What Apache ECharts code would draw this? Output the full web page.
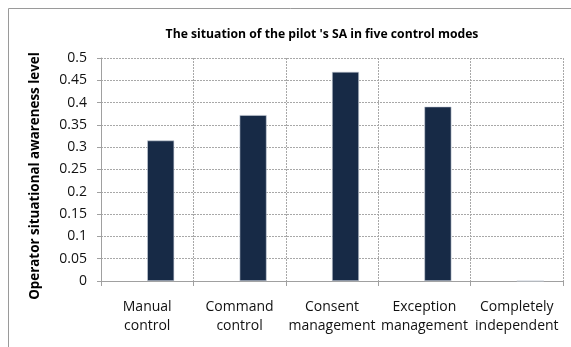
<!DOCTYPE html>
<html><head><meta charset="utf-8">
<script src="https://cdn.jsdelivr.net/npm/echarts@6/dist/echarts.min.js"></script>
<style>html,body{margin:0;padding:0;background:#fff}#c{width:571px;height:347px}</style>
</head><body><div id="c"></div>
<script>
const categories = ['Manual\ncontrol', 'Command\ncontrol', 'Consent\nmanagement', 'Exception\nmanagement', 'Completely\nindependent'];
const saValues = [0.315, 0.372, 0.469, 0.391, 0];
const emptySeries = [null, null, null, null, null];
const titleText = "The situation of the pilot 's SA in five control modes";
const yName = 'Operator situational awareness level';

const FONT = '"Open Sans", "Noto Sans", sans-serif';
const chart = echarts.init(document.getElementById('c'), null, {renderer: 'canvas'});
chart.setOption({
  animation: false,
  backgroundColor: '#fff',
  title: {
    text: titleText, left: 317, top: 24, textAlign: 'center',
    textStyle: {fontFamily: FONT, fontWeight: 'bold', fontSize: 12.2, color: '#000'}
  },
  graphic: [
    {type: 'rect', shape: {x: 8.5, y: 8.5, width: 600, height: 400}, style: {fill: 'none', stroke: '#9a9a9a', lineWidth: 1}, silent: true},
    {type: 'text', x: 35, y: 176, rotation: Math.PI / 2,
     style: {text: yName, fontFamily: FONT, fontWeight: 'bold', fontSize: 13.4, fill: '#000', align: 'center', verticalAlign: 'middle'}}
  ],
  grid: {left: 101, right: 8, top: 58, bottom: 66, containLabel: false},
  xAxis: {
    type: 'category', data: categories, boundaryGap: true,
    axisLine: {show: true, lineStyle: {color: '#a0a0a0', width: 1}},
    axisTick: {show: true, length: 5, interval: 0, lineStyle: {color: '#a0a0a0'}},
    splitLine: {show: true, interval: 0, lineStyle: {color: '#a8a8a8', type: [2, 1], width: 1}},
    axisLabel: {interval: 0, margin: 17, fontFamily: FONT, fontSize: 14, color: '#111', lineHeight: 18.5}
  },
  yAxis: {
    type: 'value', min: 0, max: 0.5, interval: 0.05,
    axisLine: {show: true, lineStyle: {color: '#a0a0a0', width: 1}},
    axisTick: {show: true, length: 4, lineStyle: {color: '#a0a0a0'}},
    splitLine: {show: true, lineStyle: {color: '#a8a8a8', type: [2, 1], width: 1}},
    axisLabel: {margin: 14, fontFamily: FONT, fontSize: 14, color: '#111',
      formatter: v => String(Math.round(v * 100) / 100)}
  },
  series: [
    {type: 'bar', data: emptySeries, barWidth: 27, barGap: '0%'},
    {type: 'bar', data: saValues, barWidth: 27, barGap: '0%',
     itemStyle: {color: '#172a46', borderColor: '#c9d0da', borderWidth: 0.6}}
  ]
});
</script></body></html>
